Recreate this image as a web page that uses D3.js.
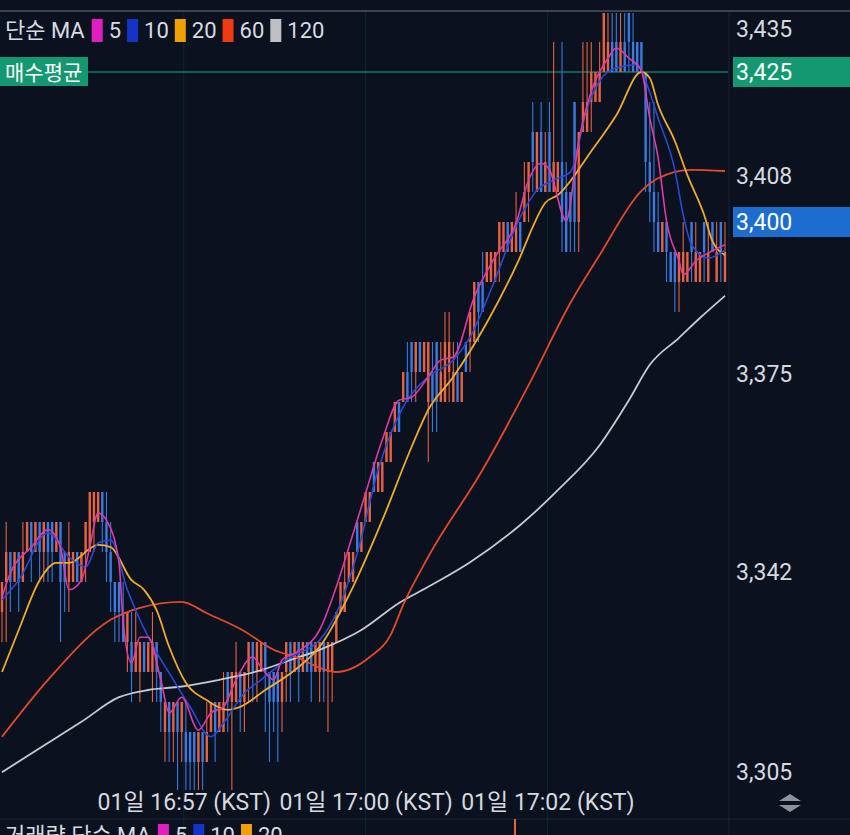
<!DOCTYPE html>
<html><head><meta charset="utf-8">
<script src="https://cdn.jsdelivr.net/npm/d3@7"></script>
<style>
html,body{margin:0;padding:0;background:#0a111f;}
svg{display:block;}
text{font-family:Roboto,'Noto Sans CJK KR',sans-serif;}
</style></head><body>
<svg id="c" width="850" height="835"></svg>
<script>
// ---- candle data (price levels) ----
const opens=[
3335,3340,3345,3340,3345,3340,3345,3350,3345,3350,
3345,3350,3350,3345,3350,3345,3340,3340,3345,3340,
3345,3345,3350,3350,3355,3350,3345,3340,3340,3335,
3330,3330,3325,3325,3330,3325,3325,3330,3325,3315,
3320,3315,3320,3315,3315,3315,3315,3310,3315,3310,
3315,3320,3315,3315,3325,3320,3320,3325,3320,3325,
3330,3325,3325,3330,3325,3325,3325,3320,3325,3330,
3325,3330,3325,3330,3330,3325,3325,3330,3325,3325,
3330,3335,3335,3340,3340,3350,3345,3350,3350,3360,
3355,3355,3360,3360,3365,3370,3370,3375,3380,3375,
3380,3375,3370,3375,3380,3370,3370,3375,3370,3375,
3370,3380,3380,3380,3390,3390,3390,3390,3390,3395,
3395,3400,3395,3395,3400,3400,3405,3415,3405,3415,
3405,3415,3405,3405,3410,3405,3405,3420,3400,3415,
3415,3420,3420,3420,3425,3425,3430,3430,3425,3430,
3435,3430,3430,3430,3425,3410,3405,3400,3395,3400,
3395,3395,3390,3390,3390,3400,3390,3390,3400,3390,
3400,3390,3400,3390];
const highs=[
3340,3350,3345,3345,3345,3350,3350,3350,3350,3350,
3350,3350,3350,3350,3350,3345,3350,3345,3345,3345,
3350,3355,3355,3355,3355,3355,3350,3340,3340,3340,
3335,3335,3335,3330,3330,3330,3335,3330,3325,3320,
3320,3320,3320,3320,3320,3315,3315,3315,3315,3320,
3320,3320,3320,3325,3325,3325,3330,3325,3325,3330,
3330,3330,3330,3330,3325,3325,3325,3325,3330,3330,
3330,3330,3330,3330,3330,3330,3330,3330,3330,3330,
3335,3340,3345,3345,3345,3350,3350,3355,3355,3360,
3360,3360,3365,3365,3370,3370,3375,3380,3380,3380,
3380,3380,3380,3380,3380,3380,3385,3385,3380,3380,
3375,3380,3385,3390,3390,3395,3395,3395,3395,3400,
3400,3400,3400,3405,3400,3410,3410,3420,3415,3420,
3415,3420,3430,3410,3430,3410,3405,3420,3415,3430,
3430,3430,3425,3430,3435,3435,3435,3435,3435,3435,
3435,3435,3430,3430,3425,3420,3420,3405,3400,3400,
3395,3395,3395,3400,3395,3400,3400,3395,3400,3400,
3400,3400,3400,3400];
const lows=[
3330,3330,3335,3340,3335,3340,3345,3340,3345,3340,
3340,3340,3340,3345,3330,3335,3335,3340,3340,3340,
3340,3345,3345,3350,3345,3340,3335,3330,3330,3330,
3325,3320,3325,3320,3325,3325,3320,3320,3315,3310,
3310,3310,3305,3310,3305,3305,3305,3305,3305,3310,
3315,3310,3315,3315,3315,3305,3320,3315,3315,3320,
3320,3320,3325,3315,3310,3315,3310,3315,3320,3320,
3325,3320,3325,3325,3320,3325,3320,3320,3315,3320,
3330,3335,3335,3340,3340,3345,3345,3350,3350,3355,
3355,3355,3360,3360,3365,3365,3370,3370,3370,3370,
3375,3375,3360,3365,3365,3370,3370,3370,3370,3370,
3370,3375,3375,3380,3380,3385,3390,3390,3390,3390,
3395,3395,3395,3395,3395,3400,3400,3405,3405,3405,
3405,3405,3405,3405,3395,3395,3395,3395,3395,3415,
3415,3415,3420,3420,3425,3425,3425,3425,3425,3425,
3425,3425,3425,3425,3405,3400,3395,3395,3395,3390,
3390,3385,3385,3390,3390,3390,3390,3390,3390,3390,
3395,3390,3390,3390];
const closes=[
3340,3345,3340,3345,3340,3345,3350,3345,3350,3345,
3350,3345,3345,3350,3340,3340,3345,3345,3340,3345,
3350,3355,3355,3355,3350,3345,3340,3335,3335,3330,
3335,3325,3330,3330,3325,3330,3330,3325,3320,3320,
3315,3320,3315,3320,3310,3310,3310,3315,3310,3315,
3320,3315,3320,3320,3320,3325,3325,3320,3325,3330,
3325,3330,3330,3325,3320,3320,3320,3325,3330,3325,
3330,3325,3330,3325,3325,3330,3330,3325,3330,3330,
3335,3340,3340,3345,3345,3345,3350,3355,3355,3355,
3360,3360,3365,3365,3370,3365,3375,3370,3375,3380,
3375,3380,3380,3370,3370,3375,3380,3380,3375,3370,
3375,3375,3385,3390,3385,3385,3395,3395,3395,3400,
3400,3395,3400,3400,3395,3405,3410,3410,3415,3405,
3410,3405,3410,3410,3400,3395,3400,3400,3415,3420,
3420,3425,3425,3425,3435,3430,3425,3425,3430,3425,
3430,3425,3425,3425,3410,3405,3400,3395,3400,3395,
3390,3390,3395,3395,3395,3395,3395,3395,3395,3395,
3395,3395,3395,3395];

// ---- moving averages, read at sample candle indices ----
const ma5Idx=[0,2,7,11,14,16,19,21,23,25,28,29,31,33,35,38,40,43,47,50,53,56,60,62,65,67,71,76,80,83,87,91,95,98,102,105,108,113,118,123,126,129,131,135,138,141,145,147,150,153,155,157,159,162,163,166,170,173];
const ma5Val=[3337.5,3341.5,3345.8,3348.7,3345.8,3338.7,3340.3,3345.8,3351.5,3350.3,3343.2,3333.2,3326.5,3330.8,3330.8,3323.7,3318.2,3320.8,3315.3,3318.2,3319.2,3323.7,3327.5,3325.8,3323.7,3327,3328.5,3332,3339.2,3345.8,3354.8,3363.7,3370.3,3370.8,3374.2,3377,3377.5,3387.5,3394.2,3399.8,3407,3409.8,3408.7,3400.2,3413.5,3421.8,3427.3,3429,3427.3,3425.2,3417.3,3410.7,3400.2,3393.5,3391.2,3393.5,3395.2,3396.2];
const ma10Idx=[0,4,11,16,20,23,26,30,35,41,45,50,53,58,62,69,76,80,85,90,96,102,108,112,117,124,128,132,136,140,143,147,152,154,157,161,163,165,169,173];
const ma10Val=[3337,3340.3,3348.2,3344.2,3342.5,3346.5,3347,3338.7,3330.8,3323.7,3319.2,3314.2,3316.5,3321.5,3323.7,3327.5,3330.3,3334.8,3344.8,3358.7,3369.2,3374.2,3377,3380.8,3388.7,3400.8,3405.3,3407,3408.3,3419,3423.5,3425.7,3426.2,3423.5,3417.3,3408.7,3401.2,3396.2,3394,3395.3];
const ma20Idx=[0,4,9,13,16,23,26,31,34,37,40,44,49,54,57,63,70,76,84,91,98,102,108,116,121,124,127,130,133,141,147,153,155,157,161,164,168,170,173];
const ma20Val=[3325,3332,3340.3,3343.2,3343.2,3346.2,3345.8,3340.3,3338.7,3335.3,3329.2,3323.2,3320.3,3318.7,3319.2,3322,3325.3,3329.2,3339.2,3350.3,3362.5,3368.7,3374.2,3383.2,3389.8,3394.2,3399.2,3403.2,3404.5,3411.8,3417.8,3425,3424,3419.5,3413.5,3407.8,3401.2,3396.8,3394.5];
const ma60Idx=[0,11,26,33,43,49,58,65,71,76,80,88,93,96,102,115,126,136,143,153,157,165,173];
const ma60Val=[3314.2,3323.7,3333.7,3335.7,3336.7,3334.8,3331.8,3328.7,3327.3,3325.7,3325,3327.5,3331.2,3336.2,3344.2,3358.7,3372.8,3386.5,3394.5,3405.2,3407.3,3408.7,3408.5];
const ma120Idx=[0,9,19,28,35,42,52,62,69,76,86,95,102,112,124,133,143,150,155,162,167,173];
const ma120Val=[3308.3,3312.3,3316.7,3320.8,3322,3322.5,3323.7,3325.3,3327,3328.7,3332,3336.5,3339.2,3343.3,3349.5,3355.3,3362.8,3370.3,3376.2,3380.7,3384,3387.7];

// ---- labels ----
const yTicks=[3435,3408,3375,3342,3305];
const buyAvg=3425, lastPrice=3400;
const timeTickIdx=[43.5,87,130.5];
const timeLabels=["01일 16:57 (KST)","01일 17:00 (KST)","01일 17:02 (KST)"];
const maNames=["5","10","20","60","120"];
const volNames=["5","10","20"];

// ---- drawing ----
const W=850,H=835, plotR=728, plotT=12, plotB=790;
const svg=d3.select('#c');
svg.append('rect').attr('width',W).attr('height',H).attr('fill','#0a111f');

const x=d3.scaleLinear().domain([0,opens.length-1]).range([2,725]);
const y=d3.scaleLinear().domain([3305,3435]).range([792,12]);

// grid
svg.append('g').selectAll('line').data(timeTickIdx).join('line')
  .attr('x1',d=>x(d)).attr('x2',d=>x(d)).attr('y1',plotT).attr('y2',H)
  .attr('stroke','#172031').attr('stroke-width',1);
svg.append('line').attr('x1',plotR+1).attr('x2',plotR+1).attr('y1',plotT).attr('y2',H)
  .attr('stroke','#1a2334');
svg.append('line').attr('x1',0).attr('x2',W).attr('y1',11).attr('y2',11)
  .attr('stroke','#3a4251').attr('stroke-width',2);

const defs=svg.append('defs');
defs.append('clipPath').attr('id','plot').append('rect')
  .attr('x',0).attr('y',plotT+1).attr('width',plotR).attr('height',plotB-plotT-1);
const plot=svg.append('g').attr('clip-path','url(#plot)');

// buy average line
plot.append('line').attr('x1',0).attr('x2',plotR+5).attr('y1',y(buyAvg)).attr('y2',y(buyAvg))
  .attr('stroke','#1ea883').attr('stroke-width',1.2);

const UP='#e8623f', DN='#3b7ade';
const idx=d3.range(opens.length);
const cg=plot.append('g');
cg.selectAll('line').data(idx).join('line')
  .attr('x1',i=>x(i)).attr('x2',i=>x(i))
  .attr('y1',i=>y(highs[i])).attr('y2',i=>y(lows[i]))
  .attr('stroke',i=>closes[i]>=opens[i]?UP:DN).attr('stroke-width',1.1);
cg.selectAll('rect').data(idx).join('rect')
  .attr('x',i=>x(i)-1.2).attr('width',2.4)
  .attr('y',i=>y(Math.max(opens[i],closes[i])))
  .attr('height',i=>Math.abs(y(opens[i])-y(closes[i])))
  .attr('fill',i=>closes[i]>=opens[i]?UP:DN);

// MA lines
const line=d3.line().x(d=>x(d[0])).y(d=>y(d[1])).curve(d3.curveMonotoneX);
const mas=[
  [ma120Idx,ma120Val,'#c7cad1',1.8],
  [ma60Idx,ma60Val,'#e5492b',1.8],
  [ma20Idx,ma20Val,'#f0ab2c',1.8],
  [ma10Idx,ma10Val,'#2a4ad6',1.6],
  [ma5Idx,ma5Val,'#e03aa6',1.6]
];
mas.forEach(([ix,vals,col,w])=>{
  plot.append('path').datum(ix.map((d,k)=>[d,vals[k]]))
    .attr('d',line).attr('fill','none').attr('stroke',col).attr('stroke-width',w);
});

// right axis
const fmt=d3.format(',');
const ay=svg.append('g').attr('transform',`translate(${plotR+5},0)`)
  .call(d3.axisRight(y).tickValues(yTicks).tickFormat(fmt).tickSize(0).tickPadding(3));
ay.select('.domain').remove();
ay.selectAll('.tick').attr('transform',d=>`translate(0,${Math.max(29,Math.min(772,y(d)+2))})`);
ay.selectAll('text').attr('fill','#d6d9df').attr('font-size',23).attr('dy','0.36em')
  .attr('font-family','Roboto,sans-serif');

// badges
function badge(v,col){
  const g=svg.append('g');
  g.append('rect').attr('x',733).attr('y',y(v)-15).attr('width',W-733).attr('height',30).attr('fill',col);
  g.append('text').attr('x',736).attr('y',y(v)).attr('dy','0.36em').attr('fill','#ffffff')
    .attr('font-size',23).text(fmt(v));
}
badge(buyAvg,'#139871');
badge(lastPrice,'#1d6cd0');

// buy avg label
svg.append('rect').attr('x',0).attr('y',y(buyAvg)-15).attr('width',88).attr('height',29).attr('fill','#139871');
svg.append('text').attr('x',5).attr('y',y(buyAvg)+8).attr('fill','#ffffff')
  .attr('font-size',21).attr('font-family',"'Noto Sans CJK KR',sans-serif").text('매수평균');

// legend
function legend(yy, title, names, colors){
  const g=svg.append('g');
  let cx=5;
  const t=g.append('text').attr('x',cx).attr('y',yy).attr('fill','#d8dbe1').attr('font-size',22).text(title);
  cx+=t.node().getComputedTextLength()+7;
  names.forEach((n,k)=>{
    g.append('rect').attr('x',cx).attr('y',yy-19).attr('width',11).attr('height',23).attr('fill',colors[k]);
    cx+=17;
    const tt=g.append('text').attr('x',cx).attr('y',yy).attr('fill','#d8dbe1').attr('font-size',22).text(n);
    cx+=tt.node().getComputedTextLength()+6;
  });
}
legend(38,'단순 MA',maNames,['#e01fc0','#1434c8','#f0a000','#f03a10','#c0c0c4']);

// x axis
const ax=svg.append('g').attr('transform',`translate(0,${plotB})`)
  .call(d3.axisBottom(x).tickValues(timeTickIdx).tickFormat((d,i)=>timeLabels[i]).tickSize(0));
ax.select('.domain').remove();
ax.selectAll('text').attr('y',20).attr('dy',null).attr('fill','#d6d9df').attr('font-size',23);

// up/down icon
svg.append('path').attr('d','M779,801 L790,794 L801,801 Z').attr('fill','#8d939c');
svg.append('path').attr('d','M779,805 L790,812 L801,805 Z').attr('fill','#8d939c');

// lower panel header (cut off by the window edge, as in the reference)
svg.append('line').attr('x1',0).attr('x2',W).attr('y1',819).attr('y2',819).attr('stroke','#1c2535');
svg.append('line').attr('x1',515).attr('x2',515).attr('y1',819).attr('y2',H).attr('stroke',UP).attr('stroke-width',2);
legend(843,'거래량 단순 MA',volNames,['#e01fc0','#1434c8','#f0a000']);
</script>
</body></html>
